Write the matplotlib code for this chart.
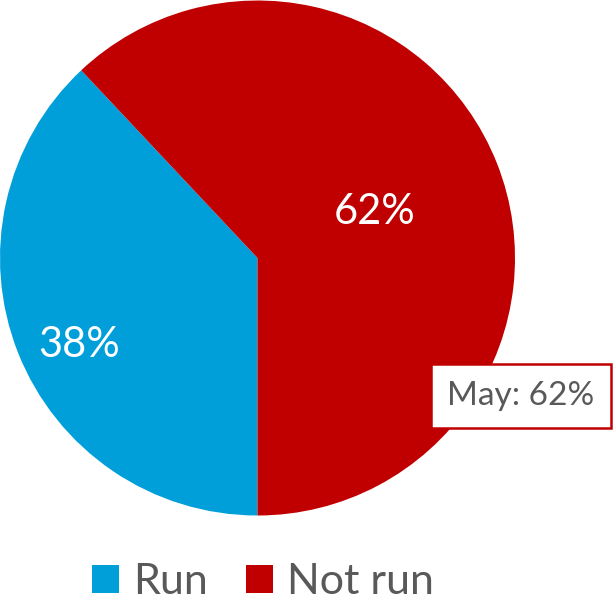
import matplotlib
matplotlib.use("Agg")
import matplotlib.pyplot as plt
from matplotlib.patches import Patch

labels = ["Run", "Not run"]
values = [38, 62]
colors = ["#009FDA", "#C00000"]
callout = "May: 62%"

W, H = 616, 606
plt.rcParams["font.family"] = ["Lato", "DejaVu Sans"]
fig = plt.figure(figsize=(W / 100, H / 100), dpi=100)

# pie occupies pixel box x 0..515, y 0..516
ax = fig.add_axes([0 / W, 1 - 516 / H, 515 / W, 516 / H])
wedges, _ = ax.pie(values, colors=colors, startangle=270, counterclock=False,
                   radius=1, wedgeprops=dict(linewidth=0))
ax.set_xlim(-1, 1)
ax.set_ylim(-1, 1)
ax.set_aspect("equal")
ax.axis("off")

# percentage labels
fig.text(79 / W, 1 - 345 / H, f"{values[0]}%", color="white", fontsize=30,
         ha="center", va="center")
fig.text(375 / W, 1 - 212 / H, f"{values[1]}%", color="white", fontsize=30,
         ha="center", va="center")

# callout box
fig.text(521 / W, 1 - 396 / H, callout, color="#595959", fontsize=24,
         ha="center", va="center",
         bbox=dict(boxstyle="square,pad=0.5", fc="white", ec="#C00000", lw=1.8))

# legend
handles = [Patch(facecolor=c, edgecolor="none") for c in colors]
fig.legend(handles, labels, loc="center", bbox_to_anchor=(263 / W, 1 - 582 / H),
           ncol=2, frameon=False, labelcolor="#595959",
           prop=dict(size=31),
           handlelength=0.63, handleheight=0.63, handletextpad=0.33, columnspacing=0.88)

fig.savefig("out.png", dpi=100)
